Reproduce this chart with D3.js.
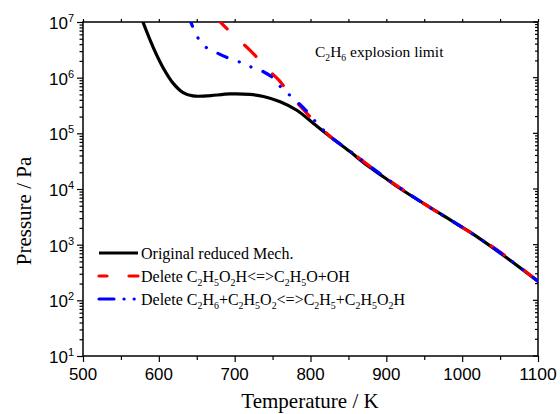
<!DOCTYPE html>
<html>
<head>
<meta charset="utf-8">
<script src="https://cdn.jsdelivr.net/npm/d3@7"></script>
<style>
  body { margin: 0; background: #fff; }
  svg { display: block; }
</style>
</head>
<body>
<svg id="canvas" width="560" height="414"></svg>
<script>
// values (temperature K, pressure Pa)
let origT = [579, 593, 606, 619, 632, 645, 663, 694, 720, 738, 760, 782, 804, 826, 852, 874, 896, 918, 988, 1010, 1050, 1100]
let origP = [1.0e7, 3.4e6, 1.48e6, 7.9e5, 5.4e5, 4.7e5, 4.7e5, 5.1e5, 5.0e5, 4.6e5, 3.7e5, 2.6e5, 1.5e5, 8.7e4, 4.7e4, 2.7e4, 1.66e4, 1.02e4, 2.6e3, 1.7e3, 7.1e2, 2.2e2]

let redT = [675, 703, 722, 742, 758, 777, 795, 808, 826, 852, 900, 950, 1000, 1050, 1100]
let redP = [1.2e7, 5.1e6, 2.95e6, 1.48e6, 9.1e5, 4.3e5, 2.3e5, 1.5e5, 8.8e4, 4.8e4, 1.55e4, 5.4e3, 2.05e3, 7.4e2, 2.2e2]

let blueT = [638, 642, 648, 660, 674, 690, 703, 718, 733, 751, 762, 777, 795, 808, 826, 852, 900, 950, 1000, 1050, 1100]
let blueP = [1.2e7, 1.0e7, 6.3e6, 3.7e6, 2.9e6, 2.3e6, 2.0e6, 1.62e6, 1.38e6, 9.8e5, 6.5e5, 4.3e5, 2.5e5, 1.55e5, 8.8e4, 4.8e4, 1.55e4, 5.4e3, 2.05e3, 7.2e2, 2.2e2]

let xTicks = [500, 600, 700, 800, 900, 1000, 1100]
let yExps = [1, 2, 3, 4, 5, 6, 7]

let legendNames = ['Original reduced Mech.', 'Delete C_2H_5O_2H<=>C_2H_5O+OH', 'Delete C_2H_6+C_2H_5O_2<=>C_2H_5+C_2H_5O_2H']

let canvas = d3.select('#canvas')
let pLeft = 83, pRight = 538, pTop = 22, pBottom = 356

let x = d3.scaleLinear().domain([500, 1100]).range([pLeft, pRight])
let y = d3.scaleLog().domain([10, 1e7]).range([pBottom, pTop])

let serif = '"Liberation Serif", "Times New Roman", serif'
let sans = '"Liberation Sans", Arial, sans-serif'

// writes text with _n as subscript
let subText = (sel, str, size) => {
    let parts = str.split(/_(\d)/)
    parts.forEach((p, i) => {
        if (p === '') return
        if (i % 2 === 1) {
            sel.append('tspan').attr('font-size', size * 0.62).attr('dy', size * 0.28).text(p)
        } else {
            let t = sel.append('tspan').text(p)
            if (i > 0) t.attr('dy', -size * 0.28)
        }
    })
}

canvas.append('defs').append('clipPath').attr('id', 'clip')
    .append('rect').attr('x', pLeft).attr('y', pTop).attr('width', pRight - pLeft).attr('height', pBottom - pTop)

// axes
let minorX = d3.range(550, 1100, 100)
let xAxis = d3.axisBottom(x).tickValues(xTicks).tickSize(6).tickFormat('')
let xMinor = d3.axisBottom(x).tickValues(minorX).tickSize(4).tickFormat('')
let xTop = d3.axisTop(x).tickValues(xTicks.concat(minorX)).tickSize(3).tickFormat('')

let majorY = yExps.map(e => Math.pow(10, e))
let minorY = []
for (let e = 1; e < 7; e++) for (let k = 2; k <= 9; k++) minorY.push(k * Math.pow(10, e))
let yAxis = d3.axisLeft(y).tickValues(majorY).tickSize(6).tickFormat('')
let yMinor = d3.axisLeft(y).tickValues(minorY).tickSize(3.5).tickFormat('')

let styleAxis = g => {
    g.select('.domain').remove()
    g.selectAll('line').attr('stroke', '#000').attr('stroke-width', 1.2)
}

canvas.append('g').attr('transform', `translate(0,${pBottom})`).call(xAxis).call(styleAxis)
canvas.append('g').attr('transform', `translate(0,${pBottom})`).call(xMinor).call(styleAxis)
canvas.append('g').attr('transform', `translate(0,${pTop})`).call(xTop).call(styleAxis)
canvas.append('g').attr('transform', `translate(${pLeft},0)`).call(yAxis).call(styleAxis)
canvas.append('g').attr('transform', `translate(${pLeft},0)`).call(yMinor).call(styleAxis)

// right side ticks point inward
canvas.append('g').selectAll('line')
    .data(majorY.concat(minorY))
    .enter()
    .append('line')
    .attr('x1', pRight).attr('x2', d => majorY.includes(d) ? pRight - 5 : pRight - 3)
    .attr('y1', d => y(d)).attr('y2', d => y(d))
    .attr('stroke', '#000').attr('stroke-width', 1.2)

canvas.append('rect')
    .attr('x', pLeft).attr('y', pTop).attr('width', pRight - pLeft).attr('height', pBottom - pTop)
    .attr('fill', 'none').attr('stroke', '#000').attr('stroke-width', 1.5)

// tick labels
canvas.append('g').selectAll('text')
    .data(xTicks)
    .enter()
    .append('text')
    .attr('x', d => x(d)).attr('y', 380)
    .attr('text-anchor', 'middle')
    .attr('font-family', sans).attr('font-size', 17)
    .attr('textLength', d => String(d).length * 9.4).attr('lengthAdjust', 'spacingAndGlyphs')
    .text(d => d)

let yl = canvas.append('g').selectAll('text')
    .data(yExps)
    .enter()
    .append('text')
    .attr('x', 74).attr('y', d => y(Math.pow(10, d)) + 7)
    .attr('text-anchor', 'end')
    .attr('font-family', sans).attr('font-size', 17)
yl.append('tspan').text('10')
yl.append('tspan').attr('font-size', 11).attr('dy', -7).text(d => d)

// axis titles
canvas.append('text')
    .attr('x', 310).attr('y', 408)
    .attr('text-anchor', 'middle')
    .attr('font-family', serif).attr('font-size', 21)
    .text('Temperature / K')

canvas.append('text')
    .attr('transform', 'translate(31,211) rotate(-90)')
    .attr('text-anchor', 'middle')
    .attr('font-family', serif).attr('font-size', 21)
    .text('Pressure / Pa')

// curves
let line = d3.line()
    .x(d => x(d[0]))
    .y(d => y(d[1]))
    .curve(d3.curveCatmullRom.alpha(0.5))

let series = [
    {t: origT, p: origP, color: '#000000', dash: null, legendDash: null},
    {t: redT, p: redP, color: '#ff0000', dash: '16,24', legendDash: '8,22,10'},
    {t: blueT, p: blueP, color: '#0000ff', dash: '10,13,0.1,12.5,0.1,13', legendDash: '15,10,0.1,10,0.1,10'}
]

let plot = canvas.append('g').attr('clip-path', 'url(#clip)')
series.forEach(s => {
    plot.append('path')
        .datum(s.t.map((t, i) => [t, s.p[i]]))
        .attr('d', line)
        .attr('fill', 'none')
        .attr('stroke', s.color)
        .attr('stroke-width', 3.2)
        .attr('stroke-linecap', 'round')
        .attr('stroke-dasharray', s.dash)
})

// legend
let rowsY = [253, 276, 299]
series.forEach((s, i) => {
    canvas.append('line')
        .attr('x1', 99).attr('x2', 138)
        .attr('y1', rowsY[i]).attr('y2', rowsY[i])
        .attr('stroke', s.color).attr('stroke-width', 3.2)
        .attr('stroke-linecap', s.legendDash ? 'round' : 'butt')
        .attr('stroke-dasharray', s.legendDash)
    let t = canvas.append('text')
        .attr('x', 141).attr('y', rowsY[i] + 6)
        .attr('font-family', serif).attr('font-size', 16)
    subText(t, legendNames[i], 16)
})

// annotation
let note = canvas.append('text')
    .attr('x', 315).attr('y', 57)
    .attr('font-family', serif).attr('font-size', 15.5)
subText(note, 'C_2H_6 explosion limit', 15.5)
</script>
</body>
</html>
